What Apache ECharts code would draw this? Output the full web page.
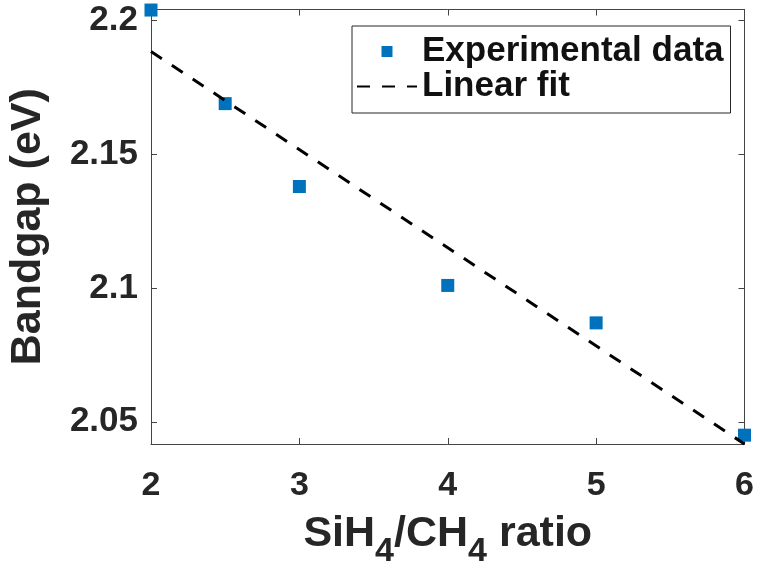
<!DOCTYPE html>
<html>
<head>
<meta charset="utf-8">
<script src="https://cdn.jsdelivr.net/npm/echarts@6/dist/echarts.min.js"></script>
<style>
html,body{margin:0;padding:0;background:#fff;}
#chart{width:757px;height:573px;}
</style>
</head>
<body>
<div id="chart"></div>
<script>
// ---- data ----
const ratios   = [2, 2.5, 3, 4, 5, 6];
const bandgaps = [2.204, 2.169, 2.138, 2.101, 2.087, 2.045];
const fitX     = [2, 6];
const fitY     = [2.1885, 2.0417];
const xTicks   = [2, 3, 4, 5, 6];
const yTicks   = [2.05, 2.1, 2.15, 2.2];
const xRange   = [2, 6];
const yRange   = [2.0417, 2.2042];
const seriesNames = ['Experimental data', 'Linear fit'];

const FONT = '"Liberation Sans", Arial, Helvetica, sans-serif';
const TXT = '#262626';
const AX = '#444';

const chart = echarts.init(document.getElementById('chart'), null, {renderer: 'canvas'});

const scatterData = ratios.map((x, i) => [x, bandgaps[i]]);
const fitData = fitX.map((x, i) => [x, fitY[i]]);

const baseX = {
  type: 'value', min: xRange[0], max: xRange[1], interval: 1,
  splitLine: {show: false},
  axisLine: {show: true, onZero: false, lineStyle: {color: AX, width: 1}},
  axisTick: {show: true, inside: true, length: 6, lineStyle: {color: AX, width: 1}},
};
const baseY = {
  type: 'value', min: yRange[0], max: yRange[1], scale: true,
  splitLine: {show: false},
  axisLine: {show: true, onZero: false, lineStyle: {color: AX, width: 1}},
  axisTick: {show: true, inside: true, length: 6, customValues: yTicks, lineStyle: {color: AX, width: 1}},
};

chart.setOption({
  animation: false,
  backgroundColor: '#fff',
  grid: {left: 151, right: 12.5, top: 9.5, bottom: 129, containLabel: false, outerBoundsMode: 'none'},
  legend: {
    orient: 'vertical', left: 352, top: 26,
    padding: [8, 7, 9, 4],
    itemGap: 0, itemWidth: 60, itemHeight: 11,
    symbolKeepAspect: true,
    borderColor: '#262626', borderWidth: 1, backgroundColor: '#fff',
    textStyle: {fontFamily: FONT, fontWeight: 'bold', fontSize: 35, color: '#111'},
    data: [
      {name: seriesNames[0], icon: 'path://M0,0H10V10H0Z'},
      {name: seriesNames[1], itemStyle: {opacity: 0, color: 'rgba(0,0,0,0)', borderWidth: 0}}
    ]
  },
  xAxis: [
    Object.assign({}, baseX, {
      position: 'bottom',
      name: '{a|SiH}{s|4}{a|/CH}{s|4}{a| ratio}',
      nameLocation: 'middle', nameGap: 69, nameMoveOverlap: false,
      nameTextStyle: {
        rich: {
          a: {fontFamily: FONT, fontWeight: 'bold', fontSize: 43, color: TXT, lineHeight: 46, verticalAlign: 'top'},
          s: {fontFamily: FONT, fontWeight: 'bold', fontSize: 34, color: TXT, lineHeight: 34, padding: [22, 0, 0, 0], verticalAlign: 'top'}
        }
      },
      axisLabel: {show: true, margin: 25, fontFamily: FONT, fontWeight: 'bold', fontSize: 34, color: TXT,
        customValues: xTicks, formatter: v => String(v)}
    }),
    Object.assign({}, baseX, {position: 'top', axisLabel: {show: false}})
  ],
  yAxis: [
    Object.assign({}, baseY, {
      position: 'left',
      name: 'Bandgap (eV)', nameLocation: 'middle', nameGap: 101, nameMoveOverlap: false,
      nameTextStyle: {fontFamily: FONT, fontWeight: 'bold', fontSize: 43, color: TXT},
      axisLabel: {show: true, margin: 13, fontFamily: FONT, fontWeight: 'bold', fontSize: 35, color: TXT,
        customValues: yTicks, formatter: v => String(+v.toFixed(2))}
    }),
    Object.assign({}, baseY, {position: 'right', axisLabel: {show: false}})
  ],
  series: [
    {
      name: seriesNames[0], type: 'scatter', data: scatterData,
      symbol: 'rect', symbolSize: 13, clip: false, z: 3,
      itemStyle: {color: '#0072BD', opacity: 1}
    },
    {
      name: seriesNames[1], type: 'line', data: fitData, color: '#000',
      symbol: 'none', showSymbol: false, clip: false, z: 4,
      lineStyle: {color: '#000', width: 3, type: [13, 12]}
    }
  ]
});
</script>
</body>
</html>
